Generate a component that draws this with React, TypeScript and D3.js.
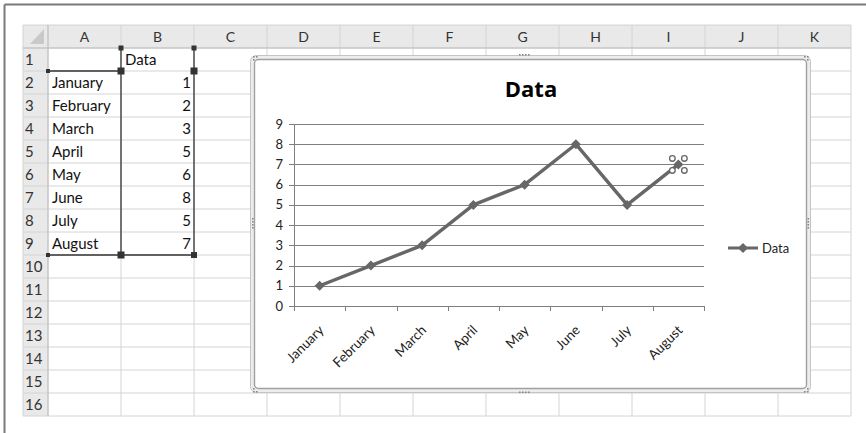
import React from "react";
import * as d3 from "d3";

const categories = ["January", "February", "March", "April", "May", "June", "July", "August"];
const values = [1, 2, 3, 5, 6, 8, 5, 7];
const seriesName = "Data";
const yTicks = [0, 1, 2, 3, 4, 5, 6, 7, 8, 9];
const columnLetters = ["A", "B", "C", "D", "E", "F", "G", "H", "I", "J", "K"];
const rowCount = 16;

const W = 866;
const H = 433;
const sheetX0 = 48;
const sheetY0 = 48;
const colW = 73;
const rowH = 23;
const rowHeadX = 23;
const headY = 25;

export default function App() {
  const x = d3.scaleBand<string>().domain(categories).range([294, 704]);
  const y = d3.scaleLinear().domain([0, 9]).range([306, 124]);
  const line = d3
    .line<number>()
    .x((_, i) => (x(categories[i]) as number) + x.bandwidth() / 2)
    .y((v) => y(v));
  const diamond = d3.symbol().type(d3.symbolDiamond2).size(64)();
  const sheetRight = sheetX0 + colW * columnLetters.length;
  const sheetBottom = sheetY0 + rowH * rowCount;
  const font = "Lato, 'Open Sans', sans-serif";
  const lineColor = "#676767";
  const boundaries = [...categories.map((c) => x(c) as number), 704];
  const last = categories.length - 1;
  const lastX = (x(categories[last]) as number) + x.bandwidth() / 2;
  const lastY = y(values[last]);

  return (
    <svg
      width={W}
      height={H}
      style={{ position: "absolute", left: 0, top: 0, background: "#fff" }}
      fontFamily={font}
    >
      <rect x={0} y={0} width={W} height={H} fill="#fff" />
      {/* outer frame */}
      <line x1={4.5} y1={4.5} x2={W} y2={4.5} stroke="#7a7a7a" strokeWidth={2} />
      <line x1={4.5} y1={4.5} x2={4.5} y2={H} stroke="#7a7a7a" strokeWidth={2} />

      {/* header backgrounds */}
      <rect x={rowHeadX} y={headY} width={sheetRight - rowHeadX} height={sheetY0 - headY} fill="#e9e9e9" />
      <rect x={rowHeadX} y={sheetY0} width={sheetX0 - rowHeadX} height={sheetBottom - sheetY0} fill="#e9e9e9" />
      <path d={`M${sheetX0 - 4},${headY + 4} L${sheetX0 - 4},${sheetY0 - 4} L${sheetX0 - 18},${sheetY0 - 4} Z`} fill="#c9c9c9" />

      {/* grid lines */}
      {d3.range(columnLetters.length + 1).map((i) => (
        <line key={"vc" + i} x1={sheetX0 + i * colW} y1={headY} x2={sheetX0 + i * colW} y2={sheetBottom} stroke="#d4d4d4" />
      ))}
      {d3.range(rowCount + 1).map((i) => (
        <line key={"hr" + i} x1={rowHeadX} y1={sheetY0 + i * rowH} x2={sheetRight} y2={sheetY0 + i * rowH} stroke="#d4d4d4" />
      ))}
      <line x1={rowHeadX} y1={headY} x2={sheetRight} y2={headY} stroke="#d4d4d4" />
      <line x1={rowHeadX} y1={headY} x2={rowHeadX} y2={sheetBottom} stroke="#d4d4d4" />
      <line x1={sheetX0} y1={headY} x2={sheetX0} y2={sheetBottom} stroke="#bdbdbd" />
      <line x1={rowHeadX} y1={sheetY0} x2={sheetRight} y2={sheetY0} stroke="#bdbdbd" />

      {columnLetters.map((c, i) => (
        <text key={c} x={sheetX0 + i * colW + colW / 2} y={headY + 17} textAnchor="middle" fontSize={14} fill="#333">
          {c}
        </text>
      ))}
      {d3.range(rowCount).map((i) => (
        <text key={"rn" + i} x={rowHeadX + 2} y={sheetY0 + i * rowH + 17} fontSize={15} fill="#333">
          {i + 1}
        </text>
      ))}

      {/* cells */}
      <text x={sheetX0 + colW + 4} y={sheetY0 + 17} fontSize={15} fill="#111">
        {seriesName}
      </text>
      {categories.map((c, i) => (
        <text key={"ca" + c} x={sheetX0 + 4} y={sheetY0 + (i + 1) * rowH + 17} fontSize={15} fill="#111">
          {c}
        </text>
      ))}
      {values.map((v, i) => (
        <text key={"cv" + i} x={sheetX0 + 2 * colW - 3} y={sheetY0 + (i + 1) * rowH + 17} fontSize={15} fill="#111" textAnchor="end">
          {v}
        </text>
      ))}

      {/* selection ranges */}
      <g stroke="#333" strokeWidth={1.3} fill="none">
        <line x1={sheetX0} y1={sheetY0 + rowH} x2={sheetX0 + colW} y2={sheetY0 + rowH} />
        <line x1={sheetX0 + colW} y1={sheetY0} x2={sheetX0 + colW} y2={sheetY0 + 9 * rowH} />
        <line x1={sheetX0 + 2 * colW} y1={sheetY0} x2={sheetX0 + 2 * colW} y2={sheetY0 + 9 * rowH} />
        <line x1={sheetX0} y1={sheetY0 + 9 * rowH} x2={sheetX0 + 2 * colW} y2={sheetY0 + 9 * rowH} />
      </g>
      <g fill="#333">
        {[
          [sheetX0 + colW, sheetY0, 2.5],
          [sheetX0 + 2 * colW, sheetY0, 2.5],
          [sheetX0, sheetY0 + rowH, 2],
          [sheetX0 + colW, sheetY0 + rowH, 3.5],
          [sheetX0 + 2 * colW, sheetY0 + rowH, 3.5],
          [sheetX0, sheetY0 + 9 * rowH, 2],
          [sheetX0 + colW, sheetY0 + 9 * rowH, 3.5],
          [sheetX0 + 2 * colW, sheetY0 + 9 * rowH, 3],
        ].map(([hx, hy, s], i) => (
          <rect key={"h" + i} x={hx - s} y={hy - s} width={2 * s} height={2 * s} />
        ))}
      </g>

      {/* chart object */}
      <rect x={250.5} y={55.5} width={560} height={337} rx={6} fill="#ededed" stroke="#c4c4c4" strokeWidth={1} />
      <rect x={254.5} y={59.5} width={552} height={329} rx={4} fill="#fff" stroke="#a0a0a0" strokeWidth={1.4} />
      <g fill="#888">
        {d3.range(4).map((i) => (
          <rect key={"tt" + i} x={519 + i * 3} y={54} width={1.6} height={1.6} />
        ))}
        {d3.range(4).map((i) => (
          <rect key={"bb" + i} x={519 + i * 3} y={391.5} width={1.6} height={1.6} />
        ))}
        {d3.range(4).map((i) => (
          <rect key={"ll" + i} x={252} y={218 + i * 3} width={1.6} height={1.6} />
        ))}
        {d3.range(4).map((i) => (
          <rect key={"rr" + i} x={807.5} y={218 + i * 3} width={1.6} height={1.6} />
        ))}
        <rect x={253} y={56} width={1.6} height={1.6} />
        <rect x={256} y={56} width={1.6} height={1.6} />
        <rect x={253} y={59} width={1.6} height={1.6} />
        <rect x={804} y={56} width={1.6} height={1.6} />
        <rect x={807} y={56} width={1.6} height={1.6} />
        <rect x={807} y={59} width={1.6} height={1.6} />
        <rect x={253} y={388} width={1.6} height={1.6} />
        <rect x={253} y={391} width={1.6} height={1.6} />
        <rect x={256} y={391} width={1.6} height={1.6} />
        <rect x={807} y={388} width={1.6} height={1.6} />
        <rect x={804} y={391} width={1.6} height={1.6} />
        <rect x={807} y={391} width={1.6} height={1.6} />
      </g>

      <text x={531} y={97} textAnchor="middle" fontSize={22} fontWeight="bold" fill="#000" fontFamily="'Open Sans', sans-serif">
        {seriesName}
      </text>

      {/* gridlines */}
      {yTicks.map((t) => (
        <g key={"yt" + t}>
          <line x1={289} x2={704} y1={Math.round(y(t)) + 0.5} y2={Math.round(y(t)) + 0.5} stroke="#7e7e7e" strokeWidth={1} />
          <text x={283} y={y(t) + 4.5} textAnchor="end" fontSize={13} fill="#222">
            {t}
          </text>
        </g>
      ))}
      <line x1={294.5} x2={294.5} y1={y(9)} y2={y(0) + 5} stroke="#7e7e7e" />
      {boundaries.map((b, i) => (
        <line key={"xt" + i} x1={Math.round(b) + 0.5} x2={Math.round(b) + 0.5} y1={y(0)} y2={y(0) + 5} stroke="#7e7e7e" />
      ))}
      {categories.map((c) => {
        const cx = (x(c) as number) + x.bandwidth() / 2;
        return (
          <text
            key={"xl" + c}
            transform={`translate(${cx + 5},${y(0) + 25}) rotate(-45)`}
            textAnchor="end"
            fontSize={13.5}
            fill="#222"
          >
            {c}
          </text>
        );
      })}

      {/* series */}
      <path d={line(values) || ""} fill="none" stroke={lineColor} strokeWidth={3.4} strokeLinejoin="round" />
      {values.map((v, i) => (
        <path
          key={"m" + i}
          d={diamond || ""}
          transform={`translate(${(x(categories[i]) as number) + x.bandwidth() / 2},${y(v)})`}
          fill={lineColor}
        />
      ))}
      {[
        [-6, -6],
        [6, -6],
        [-6, 6],
        [6, 6],
      ].map(([dx, dy], i) => (
        <circle key={"sel" + i} cx={lastX + dx} cy={lastY + dy} r={2.8} fill="#fff" stroke="#666" strokeWidth={1.3} />
      ))}

      {/* legend */}
      <line x1={728} x2={758} y1={248} y2={248} stroke={lineColor} strokeWidth={3} />
      <path d={diamond || ""} transform="translate(743,248)" fill={lineColor} />
      <text x={762} y={252.5} fontSize={13} fill="#222">
        {seriesName}
      </text>
    </svg>
  );
}
